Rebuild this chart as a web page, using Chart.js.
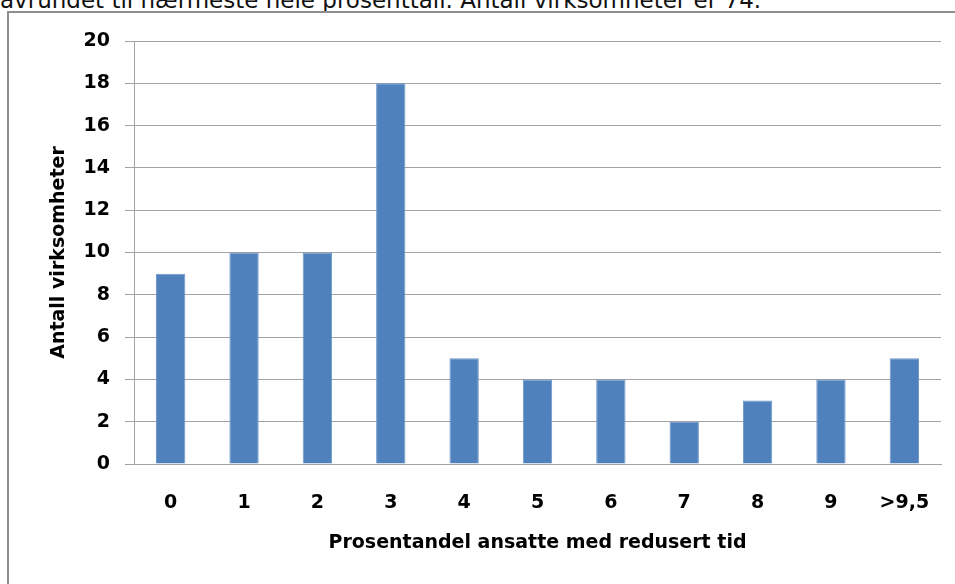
<!DOCTYPE html>
<html>
<head>
<meta charset="utf-8">
<script src="https://cdn.jsdelivr.net/npm/chart.js@4.4.0/dist/chart.umd.min.js"></script>
<style>
  body { margin: 0; background: #fff; overflow: hidden; }
  #caption {
    position: absolute; left: 0; top: -13px;
    font-family: "DejaVu Sans", sans-serif; font-size: 23px; color: #111;
    white-space: nowrap;
  }
  #frame {
    position: absolute; left: 7px; top: 11px; width: 1000px; height: 700px;
    border: 2px solid #8e8e8e; background: #fff;
  }
  #wrap { position: absolute; left: 0; top: 0; width: 955px; height: 584px; }
</style>
</head>
<body>
<div id="caption">avrundet til nærmeste hele prosenttall. Antall virksomheter er 74.</div>
<div id="frame"></div>
<div id="wrap"><canvas id="grafico" width="955" height="584"></canvas></div>
<script>
// verdier lest av figuren
const kategorier = ['0', '1', '2', '3', '4', '5', '6', '7', '8', '9', '>9,5'];
const antall = [9, 10, 10, 18, 5, 4, 4, 2, 3, 4, 5];
const yMin = 0;
const yMax = 20;
const ySteg = 2;

const fontNavn = '"DejaVu Sans", sans-serif';
const gridFarge = '#a3a3a3';

const ctx = document.getElementById('grafico').getContext('2d');

new Chart(ctx, {
    type: 'bar',
    data: {
        labels: kategorier,
        datasets: [{
            label: 'Antall virksomheter',
            data: antall,
            backgroundColor: '#4f81bd',
            borderColor: '#6f97c9',
            borderWidth: 1,
            categoryPercentage: 1,
            barPercentage: 0.4
        }]
    },
    options: {
        responsive: false,
        animation: false,
        layout: { padding: { top: 41, right: 14, left: 0, bottom: 0 } },
        plugins: {
            legend: { display: false },
            tooltip: { enabled: false }
        },
        scales: {
            x: {
                grid: { display: false },
                border: { display: true, color: gridFarge, width: 1 },
                ticks: {
                    color: '#000',
                    padding: 20,
                    font: { family: fontNavn, size: 19, weight: 'bold' }
                },
                title: {
                    display: true,
                    text: 'Prosentandel ansatte med redusert tid',
                    color: '#000',
                    padding: { top: 0, bottom: 30 },
                    font: { family: fontNavn, size: 19, weight: 'bold' }
                },
                afterFit: function(scale) { scale.height = 120; }
            },
            y: {
                min: yMin,
                max: yMax,
                ticks: {
                    stepSize: ySteg,
                    color: '#000',
                    padding: 15,
                    font: { family: fontNavn, size: 19, weight: 'bold' }
                },
                grid: { color: gridFarge, tickLength: 9, lineWidth: 1 },
                border: { display: true, color: gridFarge, width: 1 },
                title: {
                    display: true,
                    text: 'Antall virksomheter',
                    color: '#000',
                    padding: { top: 48, bottom: 0 },
                    font: { family: fontNavn, size: 19, weight: 'bold' }
                },
                afterFit: function(scale) { scale.width = 134; }
            }
        }
    }
});
</script>
</body>
</html>
